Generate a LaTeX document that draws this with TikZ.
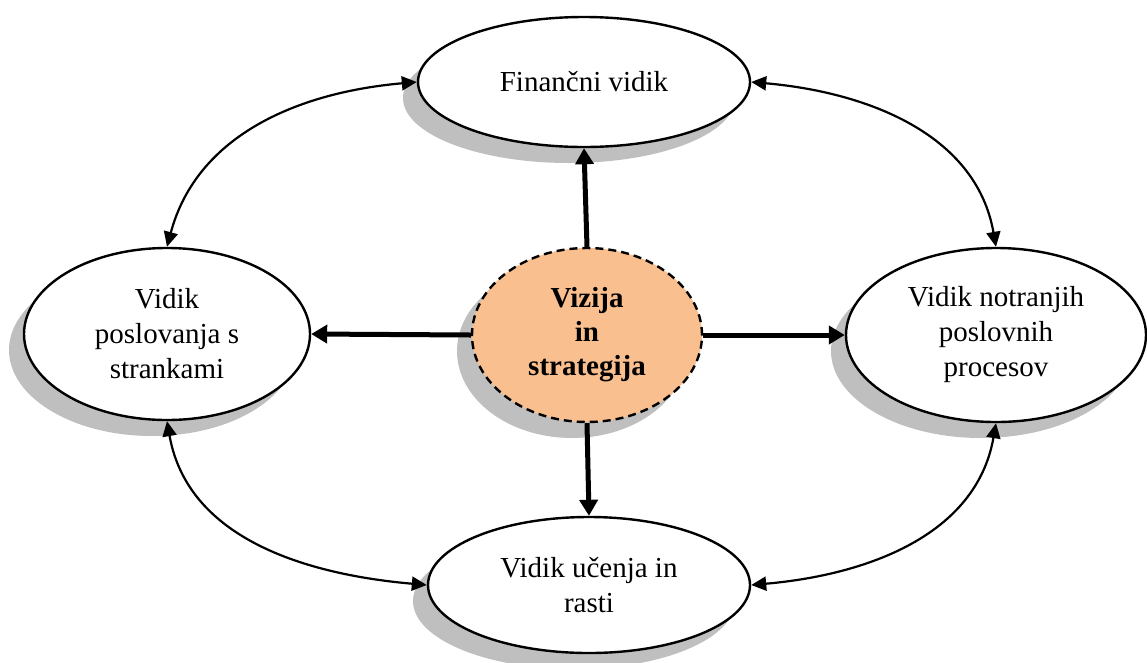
\documentclass[tikz,border=0pt]{standalone}
\usepackage{fontspec}
\setmainfont{Liberation Serif}
\usetikzlibrary{shapes.geometric,arrows.meta,shadows}
\definecolor{shdw}{HTML}{BFBFBF}
\definecolor{core}{HTML}{F9BF8F}
\tikzset{
  view/.style={ellipse, draw=black, line width=2.4pt, fill=white, inner sep=0pt,
    align=center, font=\fontsize{29}{35}\selectfont,
    general shadow={shadow xshift=-15pt, shadow yshift=-16pt, fill=shdw}},
  corebox/.style={view, fill=core, dash pattern=on 8pt off 5pt,
    font=\fontsize{29}{34}\selectfont\bfseries},
  spoke/.style={line width=5pt, -{Triangle[length=16pt,width=18pt]}},
  link/.style={line width=2.2pt, {Triangle[length=15pt,width=14pt]}-{Triangle[length=15pt,width=14pt]}}
}
\begin{document}
\begin{tikzpicture}[x=1pt,y=1pt]
\useasboundingbox (0,0) rectangle (1147,-662);
% perspectives around the centre
\node[view, minimum width=332pt, minimum height=130pt] (fin) at (584,-82) {Finančni vidik};
\node[view, minimum width=286pt, minimum height=172pt] (cust) at (167,-334) {Vidik\\poslovanja s\\strankami};
\node[view, minimum width=300pt, minimum height=174pt] (proc) at (996,-335) {Vidik notranjih\\poslovnih\\procesov};
\node[view, minimum width=322pt, minimum height=136pt] (learn) at (589,-585) {Vidik učenja in\\rasti};
\node[corebox, minimum width=230pt, minimum height=174pt] (vis) at (587,-335) {Vizija\\in\\strategija};
% spokes from vision and strategy
\draw[spoke] (vis.north) -- (fin.south);
\draw[spoke] (vis.south) -- (learn.north);
\draw[spoke] (vis.west) -- (cust.east);
\draw[spoke] (vis.east) -- (proc.west);
% links between neighbouring perspectives
\draw[link] (cust.north) to[out=75, in=185] (fin.west);
\draw[link] (fin.east) to[out=-5, in=100] (proc.north);
\draw[link] (cust.south) to[out=-80, in=175] (learn.west);
\draw[link] (proc.south) to[out=-100, in=5] (learn.east);
\end{tikzpicture}
\end{document}
